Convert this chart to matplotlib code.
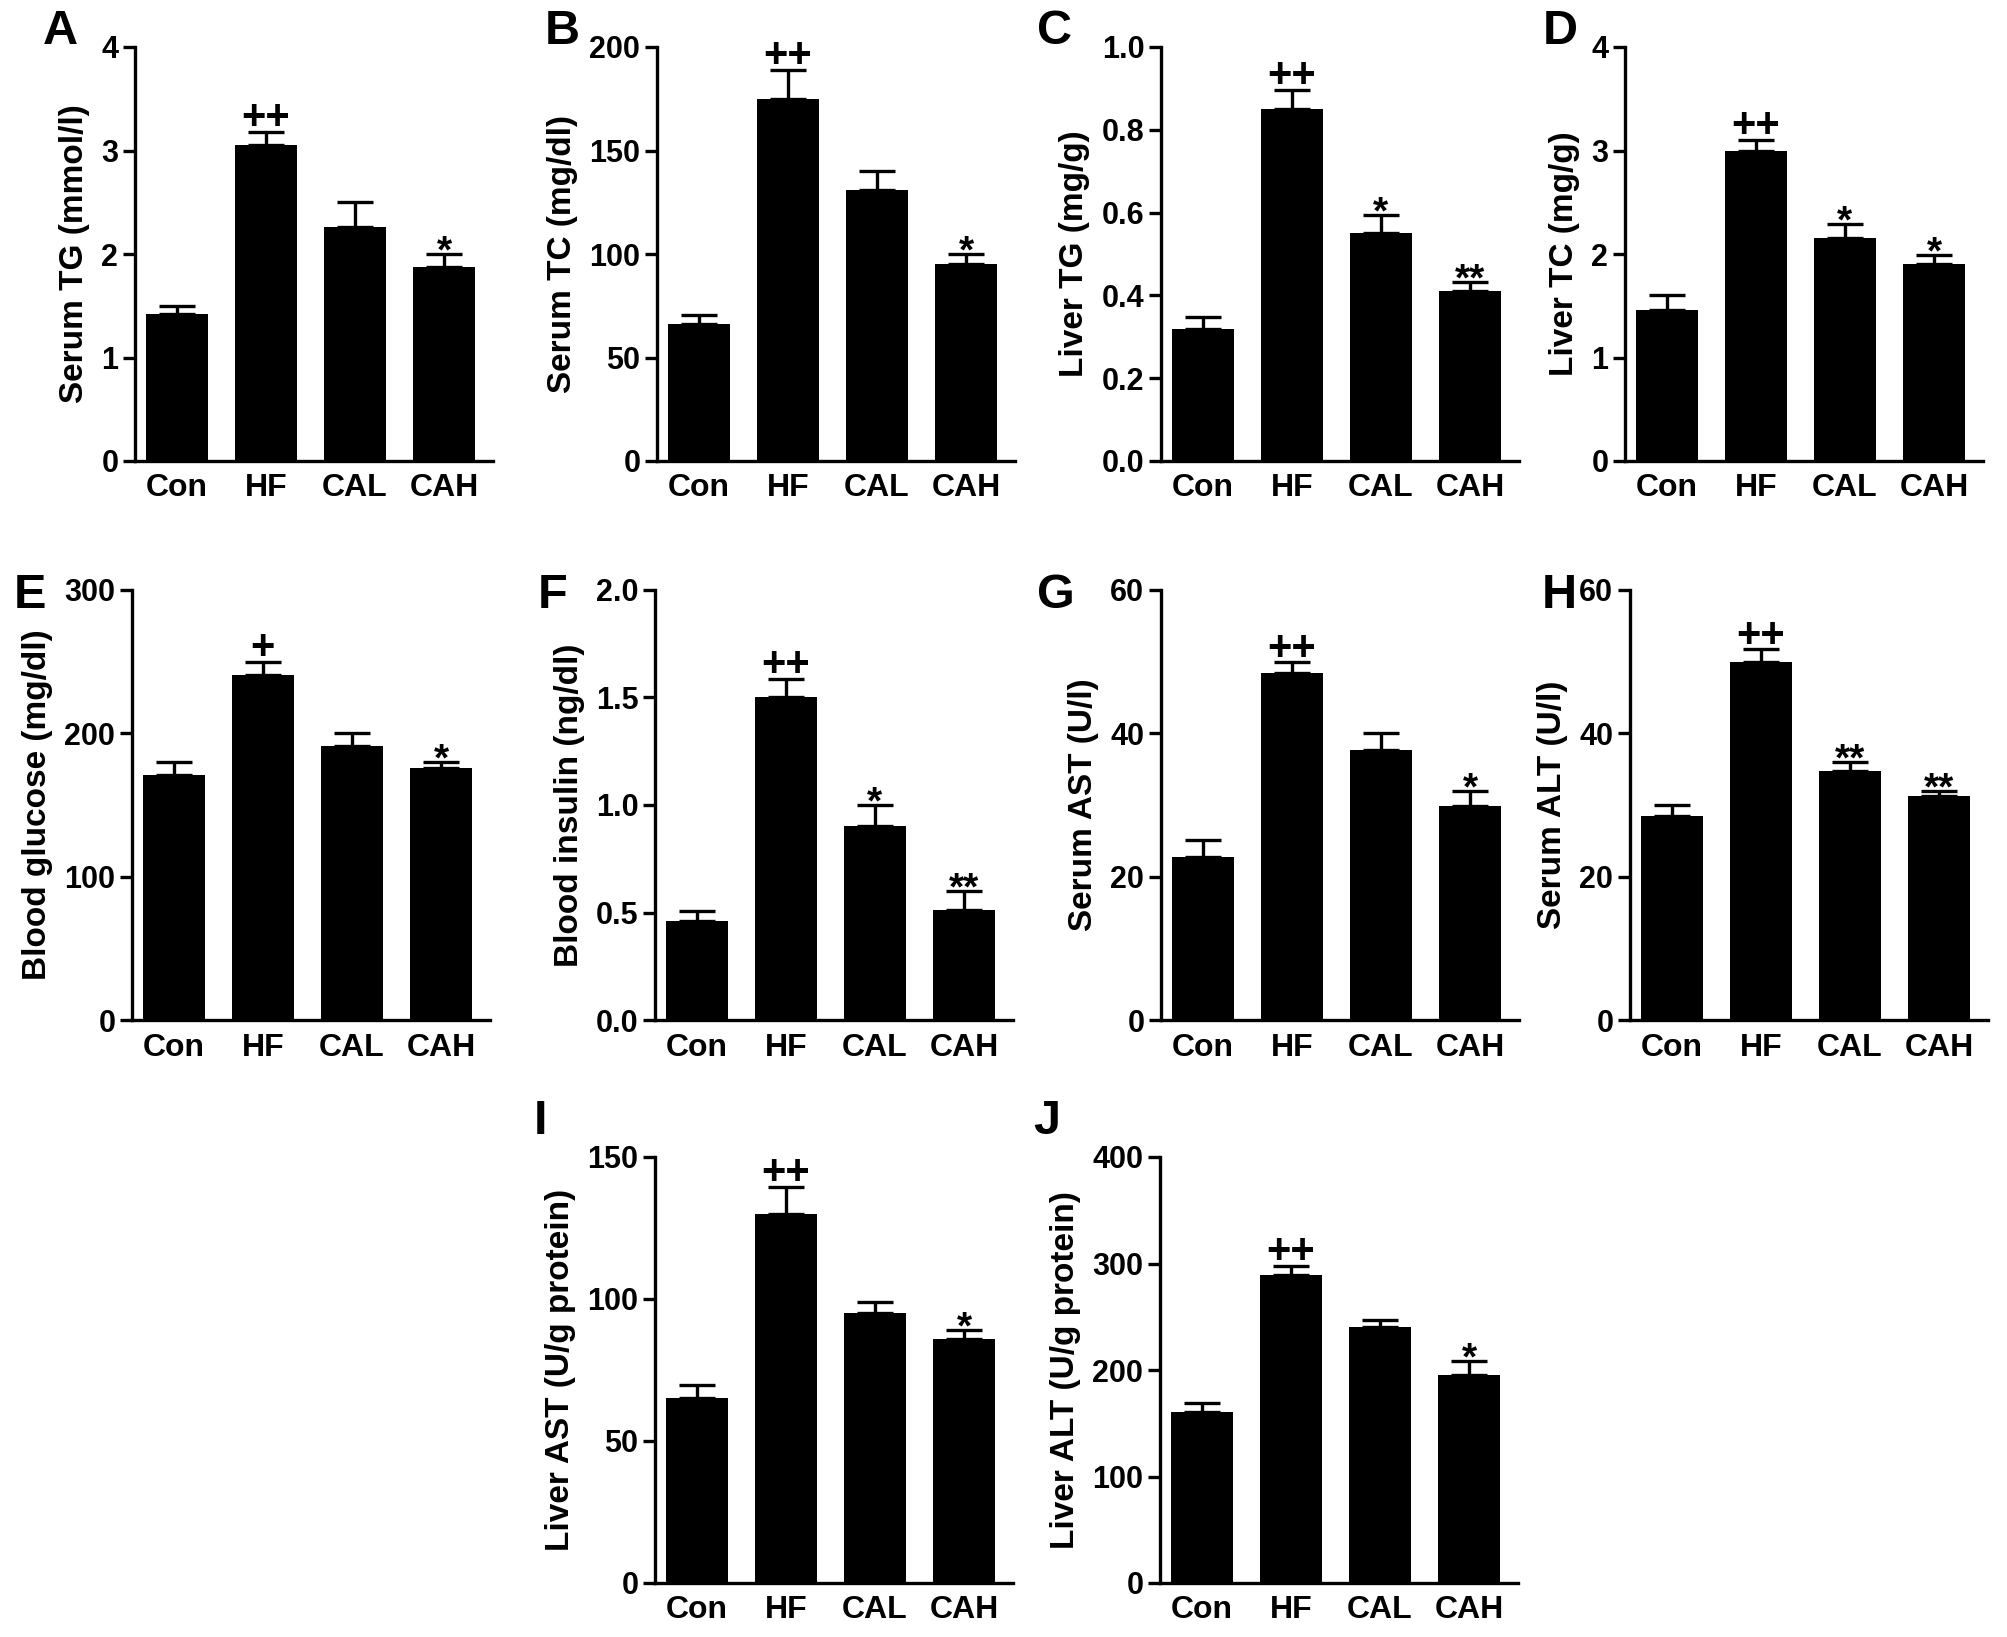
import numpy as np
import matplotlib
matplotlib.use("Agg")
import matplotlib.pyplot as plt

plt.rcParams['font.family'] = ['Liberation Sans', 'DejaVu Sans']
plt.rcParams['font.weight'] = 'bold'

# ---------------------------
# data
# ---------------------------
groups = ['Con', 'HF', 'CAL', 'CAH']

serum_tg = [1.42, 3.05, 2.26, 1.87]
serum_tg_err = [0.08, 0.13, 0.24, 0.13]
serum_tc = [66, 175, 131, 95]
serum_tc_err = [4.5, 14, 9, 5]
liver_tg = [0.32, 0.85, 0.55, 0.41]
liver_tg_err = [0.027, 0.046, 0.045, 0.023]
liver_tc = [1.46, 3.00, 2.15, 1.90]
liver_tc_err = [0.14, 0.10, 0.14, 0.09]
glucose = [171, 241, 191, 176]
glucose_err = [9, 9, 9, 4]
insulin = [0.46, 1.50, 0.90, 0.51]
insulin_err = [0.047, 0.085, 0.10, 0.09]
serum_ast = [22.8, 48.4, 37.7, 29.9]
serum_ast_err = [2.3, 1.5, 2.3, 2.1]
serum_alt = [28.4, 50.0, 34.7, 31.2]
serum_alt_err = [1.6, 1.7, 1.3, 0.8]
liver_ast = [65, 130, 95, 86]
liver_ast_err = [4.6, 9.6, 4.0, 3.0]
liver_alt = [161, 289, 240, 195]
liver_alt_err = [8, 9, 7, 13]

panel_letters = ['A', 'B', 'C', 'D', 'E', 'F', 'G', 'H', 'I', 'J']
ylabels = ['Serum TG (mmol/l)', 'Serum TC (mg/dl)', 'Liver TG (mg/g)', 'Liver TC (mg/g)',
           'Blood glucose (mg/dl)', 'Blood insulin (ng/dl)', 'Serum AST (U/l)',
           'Serum ALT (U/l)', 'Liver AST (U/g protein)', 'Liver ALT (U/g protein)']
marks = [['', '++', '', '*'], ['', '++', '', '*'], ['', '++', '*', '**'],
         ['', '++', '*', '*'], ['', '+', '', '*'], ['', '++', '*', '**'],
         ['', '++', '', '*'], ['', '++', '**', '**'], ['', '++', '', '*'],
         ['', '++', '', '*']]
yticks = [[0, 1, 2, 3, 4], [0, 50, 100, 150, 200], [0.0, 0.2, 0.4, 0.6, 0.8, 1.0],
          [0, 1, 2, 3, 4], [0, 100, 200, 300], [0.0, 0.5, 1.0, 1.5, 2.0],
          [0, 20, 40, 60], [0, 20, 40, 60], [0, 50, 100, 150], [0, 100, 200, 300, 400]]
tick_fmt = ['{:.0f}', '{:.0f}', '{:.1f}', '{:.0f}', '{:.0f}', '{:.1f}',
            '{:.0f}', '{:.0f}', '{:.0f}', '{:.0f}']
means = [serum_tg, serum_tc, liver_tg, liver_tc, glucose, insulin,
         serum_ast, serum_alt, liver_ast, liver_alt]
errs = [serum_tg_err, serum_tc_err, liver_tg_err, liver_tc_err, glucose_err, insulin_err,
        serum_ast_err, serum_alt_err, liver_ast_err, liver_alt_err]

# ---------------------------
# layout (pixel boxes of each axes: left x, top y, bottom y)
# ---------------------------
FW, FH = 2008, 1637
AX_W = 358
boxes = [(135, 47, 461), (657, 47, 461), (1161, 47, 461), (1625, 47, 461),
         (132, 590, 1020), (655, 590, 1020), (1161, 590, 1020), (1630, 590, 1020),
         (655, 1157, 1583), (1160, 1157, 1583)]
letter_xy = [(60, 32), (562, 32), (1055, 32), (1560, 32),
             (30, 596), (553, 596), (1056, 596), (1559, 596),
             (541, 1121), (1047, 1121)]

fig = plt.figure(figsize=(FW / 100, FH / 100), dpi=100)
x = np.arange(len(groups))

for i in range(10):
    lx, ty, by = boxes[i]
    ax = fig.add_axes([lx / FW, 1 - by / FH, AX_W / FW, (by - ty) / FH])
    ax.bar(x, means[i], width=0.69, color='black', zorder=2)
    ax.errorbar(x, means[i], yerr=[[0] * 4, errs[i]], fmt='none', ecolor='black',
                elinewidth=2.4, capsize=13, capthick=2.4, zorder=1)
    ax.set_xlim(-0.47, 3.55)
    ax.set_ylim(yticks[i][0], yticks[i][-1])
    ax.set_yticks(yticks[i])
    ax.set_yticklabels([tick_fmt[i].format(v) for v in yticks[i]])
    ax.set_xticks(x)
    ax.set_xticklabels(groups)
    for s in ['top', 'right']:
        ax.spines[s].set_visible(False)
    for s in ['left', 'bottom']:
        ax.spines[s].set_linewidth(2.4)
    ax.spines['left'].set_zorder(3)
    ax.tick_params(axis='y', direction='out', length=9, width=2.4, labelsize=22, pad=3)
    ax.tick_params(axis='x', length=0, labelsize=23, pad=9)
    ax.set_ylabel(ylabels[i], fontsize=24, fontweight='bold', labelpad=8)
    for j, m in enumerate(marks[i]):
        if not m:
            continue
        top = means[i][j] + errs[i][j]
        if '+' in m:
            ax.annotate(m, (x[j], top), xytext=(0, 2), textcoords='offset points',
                        ha='center', va='baseline', fontsize=30, fontweight='bold')
        else:
            ax.annotate(m, (x[j], top), xytext=(0, -6), textcoords='offset points',
                        ha='center', va='baseline', fontsize=28, fontweight='bold')
    lxp, lyp = letter_xy[i]
    fig.text(lxp / FW, 1 - lyp / FH, panel_letters[i], fontsize=35, fontweight='bold',
             ha='center', va='center')

fig.savefig('out.png', dpi=100, facecolor='white')
